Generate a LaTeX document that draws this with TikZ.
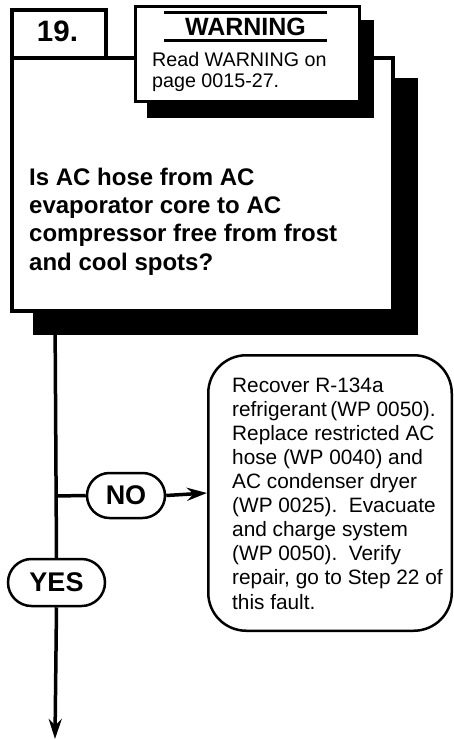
\documentclass[tikz,border=0pt]{standalone}
\usepackage{fontspec}
\setmainfont{Liberation Sans}
\usetikzlibrary{arrows.meta,shapes.misc}
\tikzset{
  conn/.style={line width=3.5pt},
  tipped/.style={-{Stealth[length=20pt,width=13pt]}},
  shadowbox/.style={fill=black, draw=none, inner sep=0pt},
  framebox/.style={draw, fill=white, inner sep=0pt},
  answer/.style={rounded rectangle, draw, fill=white, line width=2.5pt, inner sep=0pt,
    font=\fontsize{27}{30}\selectfont\bfseries},
  txt/.style={inner sep=0pt, align=left, anchor=base west}
}
\begin{document}
\begin{tikzpicture}[x=1pt,y=-1pt]
\useasboundingbox (0,0) rectangle (454,740);
% main question box
\node[shadowbox, minimum width=384.5pt, minimum height=256.5pt] (qshadow) at (225.5,206.5) {};
\node[framebox, line width=3.5pt, minimum width=381pt, minimum height=253pt] (q) at (202.5,184.5) {};
\node[framebox, line width=3.5pt, minimum width=94pt, minimum height=48.25pt] (stepbox) at (59,33.9) {};
\node[inner sep=0pt, anchor=base, font=\fontsize{29.5}{32}\selectfont\bfseries] (stepnum) at (57.5,41) {19.};
% warning box
\node[shadowbox, minimum width=227pt, minimum height=98pt] (wshadow) at (260,69) {};
\node[framebox, line width=3pt, minimum width=224pt, minimum height=95pt] (warn) at (247.5,54) {};
\coordinate (wl1) at (164,12.5); \coordinate (wr1) at (327,12.5);
\coordinate (wl2) at (164,40.5); \coordinate (wr2) at (327,40.5);
\draw[line width=3pt] (wl1) -- (wr1);
\draw[line width=3pt] (wl2) -- (wr2);
\node[inner sep=0pt, anchor=base, font=\fontsize{25}{28}\selectfont\bfseries] (wtitle) at (245.5,35) {WARNING};
\node[txt, font=\fontsize{19.7}{21.5}\selectfont] (wtext) at (152,87.5) {Read WARNING on\\page 0015-27.};
% question text
\node[txt, font=\fontsize{24}{28.3}\selectfont\bfseries] (qtext) at (29,270)
  {Is AC hose from AC\\evaporator core to AC\\compressor free from frost\\and cool spots?};
% connectors
\coordinate (vtop) at (55,312);
\coordinate (junc) at (55,496);
\coordinate (vend) at (55,739);
\node[framebox, draw, line width=2.5pt, rounded corners=38pt, minimum width=243.5pt, minimum height=275.5pt] (act) at (330,493) {};
\node[txt, font=\fontsize{20.8}{24.1}\selectfont] (acttext) at (232,609)
  {Recover R-134a\\refrigerant\,(WP 0050).\\Replace restricted AC\\hose (WP 0040) and\\AC condenser dryer\\(WP 0025).\ \ Evacuate\\and charge system\\(WP 0050).\ \ Verify\\repair, go to Step 22 of\\this fault.};
\node[answer, minimum width=78pt, minimum height=45pt] (no) at (126,495.5) {NO};
\node[answer, minimum width=97pt, minimum height=47pt] (yes) at (56.5,582.5) {YES};
\draw[conn] (vtop) -- (yes.north);
\draw[conn] (junc) -- (no.west);
\draw[conn, tipped] (no.east) -- (act.west);
\draw[conn, tipped] (yes.south) -- (vend);
\end{tikzpicture}
\end{document}
